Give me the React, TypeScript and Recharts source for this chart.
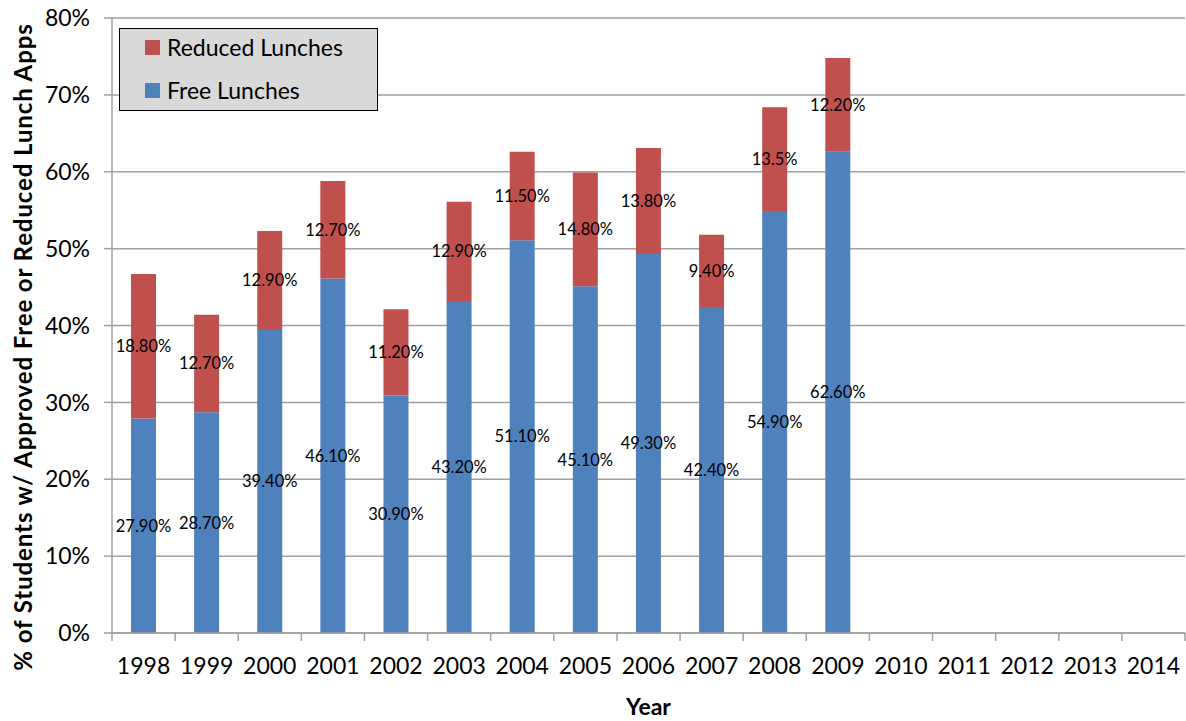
import { Bar, BarChart, CartesianGrid, LabelList, XAxis, YAxis } from "recharts";

const years = ["1998", "1999", "2000", "2001", "2002", "2003", "2004", "2005", "2006", "2007", "2008", "2009", "2010", "2011", "2012", "2013", "2014"];
const freeLunches = [27.9, 28.7, 39.4, 46.1, 30.9, 43.2, 51.1, 45.1, 49.3, 42.4, 54.9, 62.6, null, null, null, null, null];
const reducedLunches = [18.8, 12.7, 12.9, 12.7, 11.2, 12.9, 11.5, 14.8, 13.8, 9.4, 13.5, 12.2, null, null, null, null, null];
const freeLabels = ["27.90%", "28.70%", "39.40%", "46.10%", "30.90%", "43.20%", "51.10%", "45.10%", "49.30%", "42.40%", "54.90%", "62.60%", "", "", "", "", ""];
const reducedLabels = ["18.80%", "12.70%", "12.90%", "12.70%", "11.20%", "12.90%", "11.50%", "14.80%", "13.80%", "9.40%", "13.5%", "12.20%", "", "", "", "", ""];
const yTicks = [0, 10, 20, 30, 40, 50, 60, 70, 80];

const data = years.map((year, i) => ({
  year,
  free: freeLunches[i],
  reduced: reducedLunches[i],
  freeLabel: freeLabels[i],
  reducedLabel: reducedLabels[i],
}));

const FONT = "Lato, 'Open Sans', sans-serif";
const BLUE = "#4f81bd";
const RED = "#c0504d";
const GRID = "#a0a0a0";

// plot box, used for the Excel-style boundary tick marks
const PLOT_LEFT = 112;
const PLOT_RIGHT = 1185;
const PLOT_TOP = 18;
const PLOT_BOTTOM = 633;
const BAND = (PLOT_RIGHT - PLOT_LEFT) / years.length;

function YearTick(props: any) {
  const { x, payload, index } = props;
  const left = x - BAND / 2;
  return (
    <g>
      <line x1={left} y1={PLOT_BOTTOM} x2={left} y2={PLOT_BOTTOM + 8} stroke={GRID} strokeWidth={1.5} />
      {index === years.length - 1 && (
        <line x1={left + BAND} y1={PLOT_BOTTOM} x2={left + BAND} y2={PLOT_BOTTOM + 8} stroke={GRID} strokeWidth={1.5} />
      )}
      <text x={x} y={PLOT_BOTTOM + 41} textAnchor="middle" fontSize={23} fill="#000" fontFamily={FONT}>
        {payload.value}
      </text>
    </g>
  );
}

function YTitle() {
  const cx = 22;
  const cy = 347;
  return (
    <text
      x={cx}
      y={cy}
      transform={`rotate(-90 ${cx} ${cy})`}
      textAnchor="middle"
      dominantBaseline="central"
      fontSize={24}
      letterSpacing={0.9}
      fontWeight="bold"
      fill="#000"
      fontFamily={FONT}
    >
      % of Students w/ Approved Free or Reduced Lunch Apps
    </text>
  );
}

function LegendBox() {
  const items = [
    { name: "Reduced Lunches", color: RED, top: 5 },
    { name: "Free Lunches", color: BLUE, top: 48 },
  ];
  return (
    <div
      style={{
        position: "absolute",
        left: 119,
        top: 28,
        width: 259,
        height: 83,
        background: "#d9d9d9",
        border: "1.5px solid #000",
        fontFamily: FONT,
        fontSize: 23,
        boxSizing: "border-box",
      }}
    >
      {items.map((it) => (
        <div
          key={it.name}
          style={{ position: "absolute", top: it.top, left: 25, height: 26, display: "flex", alignItems: "center" }}
        >
          <span style={{ width: 15, height: 15, background: it.color, display: "inline-block", marginRight: 7 }} />
          <span>{it.name}</span>
        </div>
      ))}
    </div>
  );
}

export default function App() {
  return (
    <div style={{ position: "absolute", left: 0, top: 0, background: "#fff" }}>
      <BarChart
        width={1186}
        height={721}
        data={data}
        margin={{ top: PLOT_TOP, right: 1, left: 30, bottom: 28 }}
        barSize={25}
      >
        <CartesianGrid vertical={false} stroke={GRID} strokeWidth={1.5} />
        <XAxis
          dataKey="year"
          height={60}
          axisLine={{ stroke: GRID, strokeWidth: 1.5 }}
          tickLine={false}
          tick={<YearTick />}
          interval={0}
          label={{
            value: "Year",
            position: "insideBottom",
            offset: -22,
            fontSize: 23,
            fontWeight: "bold",
            fill: "#000",
            fontFamily: FONT,
          }}
        />
        <YAxis
          width={82}
          domain={[0, 80]}
          ticks={yTicks}
          tickFormatter={(v) => `${v}%`}
          axisLine={{ stroke: GRID, strokeWidth: 1.5 }}
          tickLine={{ stroke: GRID, strokeWidth: 1.5 }}
          tickSize={8}
          tickMargin={14}
          tick={{ fontSize: 23, fill: "#000", fontFamily: FONT }}
          label={<YTitle />}
        />
        <Bar dataKey="free" name="Free Lunches" stackId="a" fill={BLUE} isAnimationActive={false}>
          <LabelList dataKey="freeLabel" position="center" fontSize={16.5} fill="#000" fontFamily={FONT} />
        </Bar>
        <Bar dataKey="reduced" name="Reduced Lunches" stackId="a" fill={RED} isAnimationActive={false}>
          <LabelList dataKey="reducedLabel" position="center" fontSize={16.5} fill="#000" fontFamily={FONT} />
        </Bar>
      </BarChart>
      <LegendBox />
    </div>
  );
}
